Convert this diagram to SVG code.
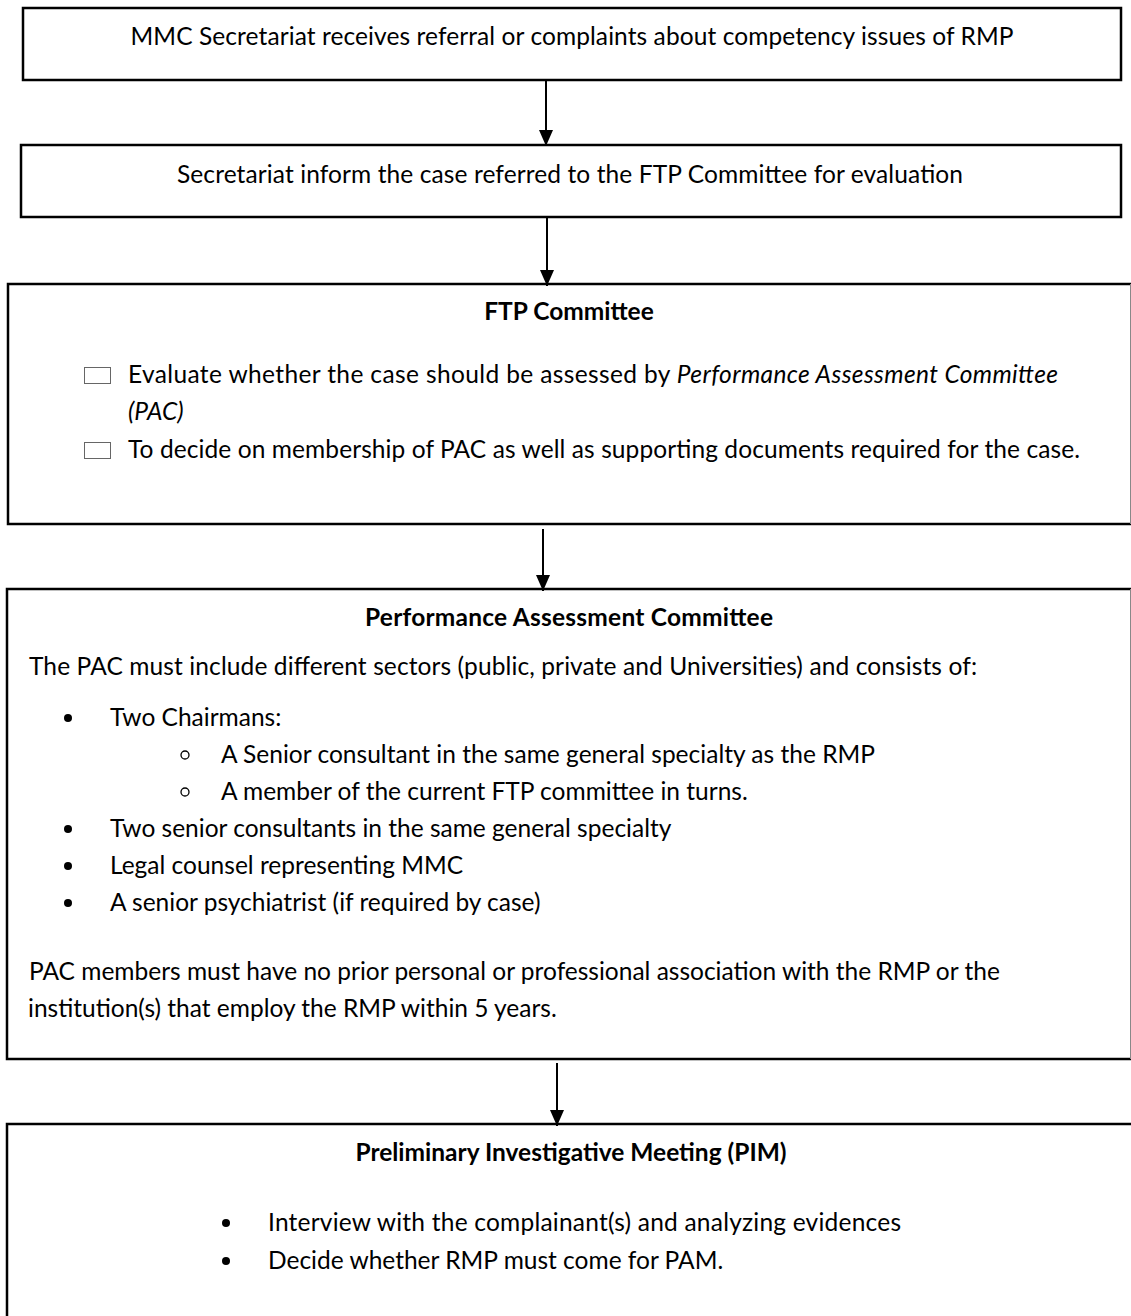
<svg xmlns="http://www.w3.org/2000/svg" width="1131" height="1316" viewBox="0 0 1131 1316">
<style>
.box{fill:#fff;stroke:#000;stroke-width:2.5}
.edge{stroke:#888;stroke-width:1;fill:none}
.t{font-family:Lato,"Liberation Sans",sans-serif;font-size:24.5px;fill:#000}
.b{font-weight:bold}
.i{font-style:italic}
.c{text-anchor:middle}
.conn{stroke:#000;stroke-width:2;fill:none}
.cb{fill:#fff;stroke:#666;stroke-width:1}
.dot{fill:#000}
.ring{fill:none;stroke:#000;stroke-width:1.3}
</style>
<defs>
<marker id="ah" markerUnits="userSpaceOnUse" viewBox="0 0 16 14" markerWidth="16" markerHeight="14" refX="16" refY="7" orient="auto">
<path d="M0,0 L16,7 L0,14 z" fill="#000"/>
</marker>
</defs>

<g id="n1">
<rect class="box" x="23" y="8" width="1098" height="72"/>
<text class="t c" x="572" y="45" textLength="883" lengthAdjust="spacing">MMC Secretariat receives referral or complaints about competency issues of RMP</text>
</g>

<g id="n2">
<rect class="box" x="21" y="145" width="1100" height="72"/>
<text class="t c" x="570" y="183" textLength="786" lengthAdjust="spacing">Secretariat inform the case referred to the FTP Committee for evaluation</text>
</g>

<g id="n3">
<rect class="box" x="8" y="284" width="1135" height="240"/>
<line class="edge" x1="1130.5" y1="284" x2="1130.5" y2="524"/>
<text class="t b c" x="569" y="320">FTP Committee</text>
<rect class="cb" x="84.5" y="367.5" width="26" height="16"/>
<text class="t" x="128" y="383" textLength="930" lengthAdjust="spacing">Evaluate whether the case should be assessed by <tspan class="i">Performance Assessment Committee</tspan></text>
<text class="t i" x="128" y="420">(PAC)</text>
<rect class="cb" x="84.5" y="442.5" width="26" height="16"/>
<text class="t" x="128" y="458" textLength="952" lengthAdjust="spacing">To decide on membership of PAC as well as supporting documents required for the case.</text>
</g>

<g id="n4">
<rect class="box" x="7" y="589" width="1136" height="470"/>
<line class="edge" x1="1130.5" y1="589" x2="1130.5" y2="1059"/>
<text class="t b c" x="569" y="626" textLength="408" lengthAdjust="spacing">Performance Assessment Committee</text>
<text class="t" x="29" y="675" textLength="948" lengthAdjust="spacing">The PAC must include different sectors (public, private and Universities) and consists of:</text>
<circle class="dot" cx="68" cy="718" r="4"/>
<text class="t" x="110" y="726">Two Chairmans:</text>
<circle class="ring" cx="185" cy="755" r="4"/>
<text class="t" x="221" y="763" textLength="654" lengthAdjust="spacing">A Senior consultant in the same general specialty as the RMP</text>
<circle class="ring" cx="185" cy="792" r="4"/>
<text class="t" x="221" y="800">A member of the current FTP committee in turns.</text>
<circle class="dot" cx="68" cy="829" r="4"/>
<text class="t" x="110" y="837">Two senior consultants in the same general specialty</text>
<circle class="dot" cx="68" cy="866" r="4"/>
<text class="t" x="110" y="874">Legal counsel representing MMC</text>
<circle class="dot" cx="68" cy="903" r="4"/>
<text class="t" x="110" y="911">A senior psychiatrist (if required by case)</text>
<text class="t" x="29" y="980">PAC members must have no prior personal or professional association with the RMP or the</text>
<text class="t" x="28" y="1017">institution(s) that employ the RMP within 5 years.</text>
</g>

<g id="n5">
<rect class="box" x="7" y="1124" width="1140" height="300"/>
<text class="t b c" x="571" y="1161">Preliminary Investigative Meeting (PIM)</text>
<circle class="dot" cx="226" cy="1223" r="4"/>
<text class="t" x="268" y="1231" textLength="633" lengthAdjust="spacing">Interview with the complainant(s) and analyzing evidences</text>
<circle class="dot" cx="226" cy="1261" r="4"/>
<text class="t" x="268" y="1269">Decide whether RMP must come for PAM.</text>
</g>

<g id="connectors">
<line class="conn" x1="546" y1="81" x2="546" y2="146" marker-end="url(#ah)"/>
<line class="conn" x1="547" y1="218" x2="547" y2="286" marker-end="url(#ah)"/>
<line class="conn" x1="543" y1="529" x2="543" y2="591" marker-end="url(#ah)"/>
<line class="conn" x1="557" y1="1063" x2="557" y2="1126" marker-end="url(#ah)"/>
</g>
</svg>
